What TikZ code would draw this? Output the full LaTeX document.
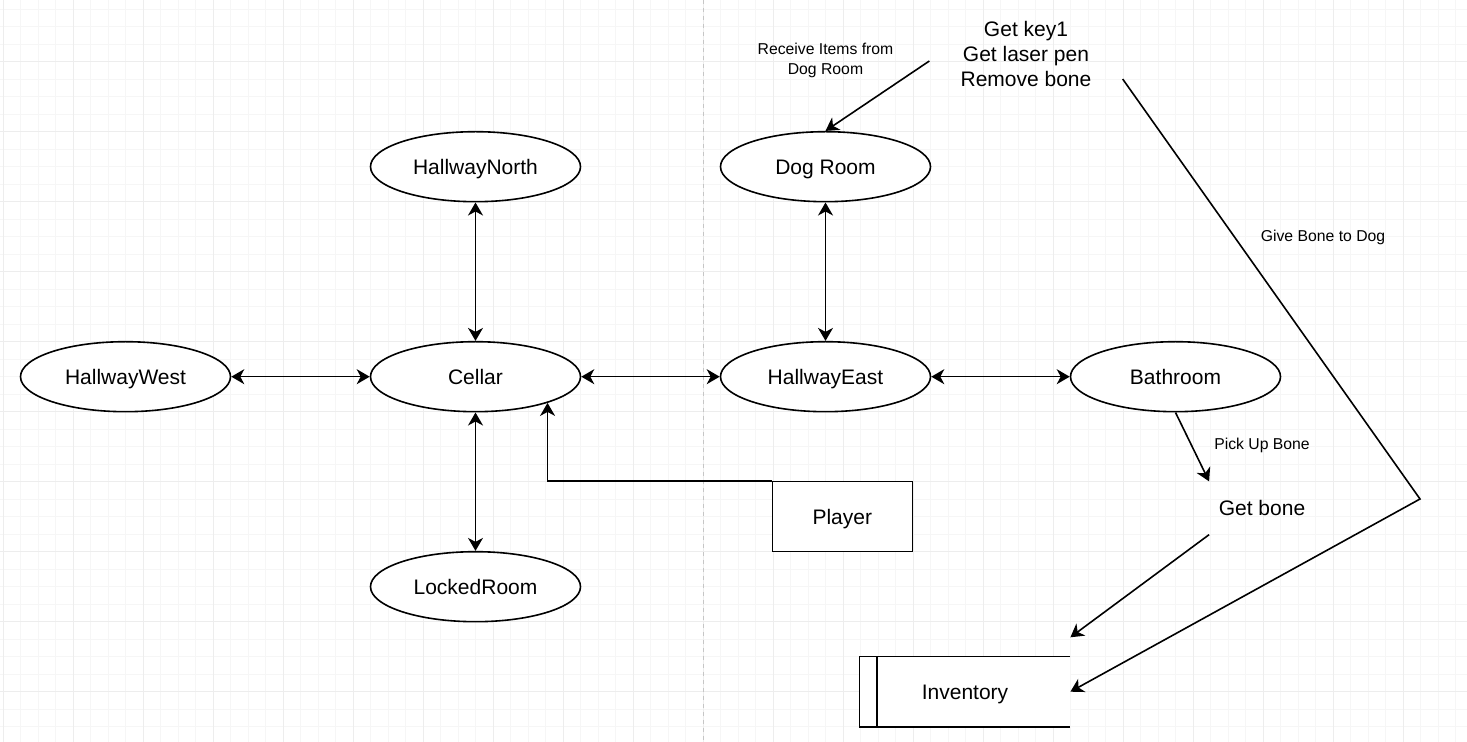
\documentclass[tikz,border=0pt]{standalone}
\usepackage{fontspec}
\setmainfont{Liberation Sans}
\usetikzlibrary{arrows.meta,positioning,shapes.geometric,calc}

\newcommand{\roomfont}{\fontsize{10.5pt}{12.5pt}\selectfont}
\newcommand{\notefont}{\fontsize{7.875pt}{10pt}\selectfont}

\tikzset{
  minorline/.style={draw=gray!7, line width=0.5pt},
  majorline/.style={draw=gray!14, line width=0.5pt},
  pageline/.style={draw=gray!45, line width=0.5pt, dash pattern=on 2pt off 2pt},
  room/.style={ellipse, draw, fill=white, line width=0.8pt, minimum width=105pt,
    minimum height=35pt, inner sep=0pt, text height=7.5pt, text depth=0pt, font=\roomfont},
  actor/.style={rectangle, draw, fill=white, line width=0.8pt, minimum width=70pt,
    minimum height=35pt, inner sep=0pt, text height=7.5pt, text depth=0pt, font=\roomfont},
  store/.style={rectangle, fill=white, minimum width=105pt, minimum height=35pt,
    inner sep=0pt, text height=7.5pt, text depth=0pt, font=\roomfont},
  plain/.style={inner sep=0pt, align=center, font=\roomfont},
  note/.style={inner sep=0pt, align=center, font=\notefont},
  link/.style={line width=0.8pt, >={Stealth[length=6.5pt,width=7.5pt,inset=2pt]}},
}

\begin{document}
\begin{tikzpicture}[x=0.5pt, y=-0.5pt]
  \useasboundingbox (0,0) rectangle (1467,742);

  % background grid
  \fill[white] (0,0) rectangle (1467,742);
  \foreach \i in {0,...,83}
    \draw[minorline] ({3+17.5*\i},0) -- ({3+17.5*\i},742);
  \foreach \j in {0,...,41}
    \draw[minorline] (0,{9.2+17.5*\j}) -- (1467,{9.2+17.5*\j});
  \foreach \i in {0,...,20}
    \draw[majorline] ({3+70*\i},0) -- ({3+70*\i},742);
  \foreach \j in {0,...,9}
    \draw[majorline] (0,{61.7+70*\j}) -- (1467,{61.7+70*\j});
  \draw[pageline] (703.3,0) -- (703.3,742);

  % rooms
  \node[room] (cellar) at (475.5,376.7) {Cellar};
  \node[room, left=69.2pt of cellar] (hwest) {HallwayWest};
  \node[room, above=69.2pt of cellar] (hnorth) {HallwayNorth};
  \node[room, below=69.2pt of cellar] (locked) {LockedRoom};
  \node[room, right=69.2pt of cellar] (heast) {HallwayEast};
  \node[room, above=69.2pt of heast] (dogroom) {Dog Room};
  \node[room, right=69.2pt of heast] (bathroom) {Bathroom};

  \node[actor] (player) at (842.3,516.7) {Player};
  \node[store] (inv) at (965,691.7) {Inventory};
  \draw[line width=0.8pt] (inv.north east) -- (inv.north west) -- (inv.south west) -- (inv.south east);
  \draw[line width=0.8pt] ([xshift=8.75pt]inv.north west) -- ([xshift=8.75pt]inv.south west);

  \node[plain, minimum width=96.25pt] (keys) at (1026,54) {Get key1\\Get laser pen\\Remove bone};
  \node[plain, minimum width=52.5pt, minimum height=26.25pt, text height=7.5pt, text depth=0pt] (getbone) at (1262,508) {Get bone};
  \coordinate (bend) at (1420,499);

  % labels
  \node[note] (receive) at ($(dogroom.north)+(0,-70)$) {Receive Items from\\Dog Room};
  \node[note] (pickup) at ($(getbone.north)+(0,-36)$) {Pick Up Bone};
  \node[note] (givebone) at ($(bend)+(-97,-262)$) {Give Bone to Dog};

  % connectors
  \draw[link, <->] (hwest.east) -- (cellar.west);
  \draw[link, <->] (cellar.east) -- (heast.west);
  \draw[link, <->] (heast.east) -- (bathroom.west);
  \draw[link, <->] (hnorth.south) -- (cellar.north);
  \draw[link, <->] (cellar.south) -- (locked.north);
  \draw[link, <->] (dogroom.south) -- (heast.north);
  \draw[link, ->] (player.north west) -| (cellar.-20.7);
  \draw[link, ->] ([yshift=-3.5pt]keys.west) -- (dogroom.north);
  \draw[link, ->] (bathroom.south) -- (getbone.north west);
  \draw[link, ->] (getbone.south west) -- ([yshift=9.5pt]inv.north east);
  \draw[link, ->] ([yshift=-12.5pt]keys.east) -- (bend) -- (inv.east);
\end{tikzpicture}
\end{document}
